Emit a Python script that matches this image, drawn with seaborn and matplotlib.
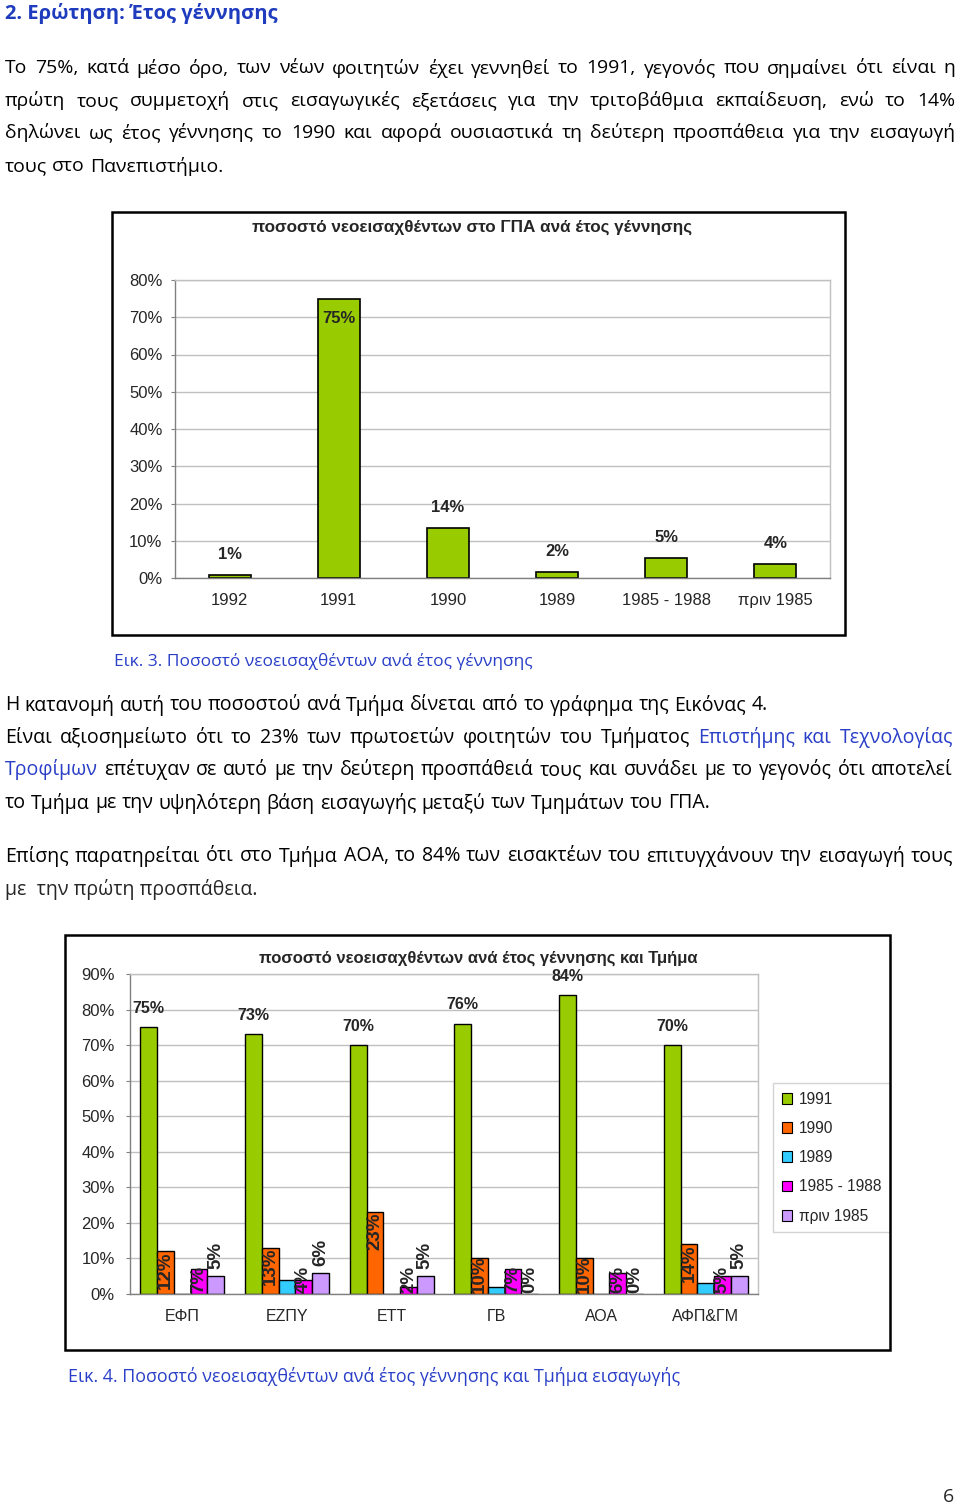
import matplotlib
matplotlib.use("Agg")
import numpy as np
import pandas as pd
import matplotlib.pyplot as plt
import seaborn as sns
from matplotlib.patches import Rectangle, Patch

# ------------------------------
# Data
# ------------------------------
# Fig. 3: share of new students per birth year
birth_years = ["1992", "1991", "1990", "1989", "1985 - 1988", "πριν 1985"]
birth_share = [0.8, 75.0, 13.5, 1.7, 5.3, 3.7]
birth_labels = ["1%", "75%", "14%", "2%", "5%", "4%"]

# Fig. 4: share per birth year and department
departments = ["ΕΦΠ", "ΕΖΠΥ", "ΕΤΤ", "ΓΒ", "ΑΟΑ", "ΑΦΠ&ΓΜ"]
year_groups = ["1991", "1990", "1989", "1985 - 1988", "πριν 1985"]
share_1991 = [75, 73, 70, 76, 84, 70]
share_1990 = [12, 13, 23, 10, 10, 14]
share_1989 = [0, 4, 0, 2, 0, 3]
share_1985_88 = [7, 4, 2, 7, 6, 5]
share_pre1985 = [5, 6, 5, 0, 0, 5]
group_colors = ["#99CC00", "#FF6600", "#33CCFF", "#FF00FF", "#CC99FF"]

# ------------------------------
# Page setup
# ------------------------------
sns.set_style("white")
plt.rcParams["font.family"] = ["Liberation Sans", "DejaVu Sans"]

W, H = 960, 1505
fig = plt.figure(figsize=(9.6, 15.05), dpi=100)
renderer = fig.canvas.get_renderer()

BODY = ["Open Sans", "DejaVu Sans"]
BLUE = "#2a3fc8"
HEAD_BLUE = "#1f3cbf"


def fx(x):
    return x / W


def fy(y):
    return 1 - y / H


def text_width(s, **kw):
    t = fig.text(0, 0, s, **kw)
    w = t.get_window_extent(renderer).width
    t.remove()
    return w


def fit_size(s, target, **kw):
    return 12 * target / text_width(s, fontsize=12, **kw)


def line(x, y, parts, width=None, **kw):
    # parts: list of (text, color); justified when width is given
    words = []
    for s, c in parts:
        for w in s.split():
            words.append((w, c))
    widths = [text_width(w, **kw) for w, _ in words]
    if width is None:
        gap = text_width("a b", **kw) - text_width("ab", **kw)
    else:
        gap = (width - sum(widths)) / (len(words) - 1)
    cx = x
    for (w, c), ww in zip(words, widths):
        fig.text(fx(cx), fy(y), w, color=c, va="center", ha="left", **kw)
        cx += ww + gap


# ------------------------------
# Text blocks
# ------------------------------
head = "2. Ερώτηση: Έτος γέννησης"
hs = fit_size(head, 272, family=BODY, weight="bold")
fig.text(fx(5), fy(14), head, family=BODY, weight="bold", fontsize=hs,
         color=HEAD_BLUE, va="center")

k1 = dict(family=BODY, fontsize=fit_size("τους στο Πανεπιστήμιο.", 217, family=BODY))
line(5, 68, [("Το 75%, κατά μέσο όρο, των νέων φοιτητών έχει γεννηθεί το 1991, "
              "γεγονός που σημαίνει ότι είναι η", "black")], width=950, **k1)
line(5, 101, [("πρώτη τους συμμετοχή στις εισαγωγικές εξετάσεις για την τριτοβάθμια "
               "εκπαίδευση, ενώ το 14%", "black")], width=950, **k1)
line(5, 133, [("δηλώνει ως έτος γέννησης το 1990 και αφορά ουσιαστικά τη δεύτερη "
               "προσπάθεια για την εισαγωγή", "black")], width=950, **k1)
line(5, 166, [("τους στο Πανεπιστήμιο.", "black")], **k1)

cap3 = "Εικ. 3. Ποσοστό νεοεισαχθέντων ανά έτος γέννησης"
fig.text(fx(114), fy(662), cap3, family=BODY, color=BLUE, va="center",
         fontsize=fit_size(cap3, 417, family=BODY))

l2 = "Η κατανομή αυτή του ποσοστού ανά Τμήμα δίνεται από το γράφημα της Εικόνας 4."
k2 = dict(family=BODY, fontsize=fit_size(l2, 759, family=BODY))
line(5, 705, [(l2, "black")], **k2)
line(5, 738, [("Είναι αξιοσημείωτο ότι το 23% των πρωτοετών φοιτητών του Τμήματος", "black"),
              ("Επιστήμης και Τεχνολογίας", BLUE)], width=948, **k2)
line(5, 770, [("Τροφίμων", BLUE),
              ("επέτυχαν σε αυτό με την δεύτερη προσπάθειά τους και συνάδει με το "
               "γεγονός ότι αποτελεί", "black")], width=948, **k2)
line(5, 803, [("το Τμήμα με την υψηλότερη βάση εισαγωγής μεταξύ των Τμημάτων του ΓΠΑ.",
               "black")], **k2)
line(5, 856, [("Επίσης παρατηρείται ότι στο Τμήμα ΑΟΑ, το 84% των εισακτέων του "
               "επιτυγχάνουν την εισαγωγή τους", "black")], width=948, **k2)
fig.text(fx(5), fy(889), "με  την πρώτη προσπάθεια.", va="center", **k2)

cap4 = "Εικ. 4. Ποσοστό νεοεισαχθέντων ανά έτος γέννησης και Τμήμα εισαγωγής"
fig.text(fx(68), fy(1377), cap4, family=BODY, color=BLUE, va="center",
         fontsize=fit_size(cap4, 612, family=BODY))

fig.text(fx(948), fy(1497), "6", family=BODY, fontsize=14, va="center", ha="center")


def style_axes(ax, ymax):
    ax.set_ylim(0, ymax)
    ax.set_yticks(range(0, ymax + 1, 10))
    ax.set_yticklabels([f"{v}%" for v in range(0, ymax + 1, 10)], fontsize=12)
    ax.yaxis.grid(True, color="#C0C0C0", lw=1)
    ax.set_axisbelow(True)
    for s in ["left", "bottom"]:
        ax.spines[s].set_color("#808080")
    for s in ["top", "right"]:
        ax.spines[s].set_color("#C0C0C0")
    for s in ax.spines.values():
        s.set_linewidth(1)
    ax.set_xlabel("")
    ax.set_ylabel("")
    ax.set_xticks(np.arange(-0.5, len(departments), 1), minor=True)
    ax.tick_params(axis="x", which="major", length=0, pad=11, labelsize=12)
    ax.tick_params(axis="x", which="minor", length=4, color="#808080")
    ax.tick_params(axis="y", length=3, color="#808080", pad=6, left=True)


# ------------------------------
# Fig. 3 chart
# ------------------------------
fig.add_artist(Rectangle((fx(112), fy(635)), (845 - 112) / W, (635 - 212) / H,
                         transform=fig.transFigure, fill=False, lw=1.8, ec="black"))
fig.text(fx(472), fy(227), "ποσοστό νεοεισαχθέντων στο ΓΠΑ ανά έτος γέννησης",
         ha="center", va="center", weight="bold", fontsize=12.3)

ax1 = fig.add_axes([fx(175), fy(578), (830 - 175) / W, (578 - 280) / H])
df1 = pd.DataFrame({"year": birth_years, "share": birth_share})
sns.barplot(data=df1, x="year", y="share", color="#99CC00", saturation=1,
            width=0.385, edgecolor="black", linewidth=1.2, ax=ax1)
style_axes(ax1, 80)
for i, (v, lab) in enumerate(zip(birth_share, birth_labels)):
    if v > 50:
        ax1.text(i, v - 5.3, lab, ha="center", va="center", weight="bold", fontsize=12)
    else:
        ax1.text(i, v + 5.5, lab, ha="center", va="center", weight="bold", fontsize=12)

# ------------------------------
# Fig. 4 chart
# ------------------------------
fig.add_artist(Rectangle((fx(65), fy(1350)), (890 - 65) / W, (1350 - 935) / H,
                         transform=fig.transFigure, fill=False, lw=1.8, ec="black"))
fig.text(fx(478), fy(958), "ποσοστό νεοεισαχθέντων ανά έτος γέννησης και Τμήμα",
         ha="center", va="center", weight="bold", fontsize=12)

series = [share_1991, share_1990, share_1989, share_1985_88, share_pre1985]
df2 = pd.DataFrame({
    "dept": np.repeat(departments, len(year_groups)),
    "group": year_groups * len(departments),
    "share": [series[j][i] for i in range(len(departments)) for j in range(len(year_groups))],
})
ax2 = fig.add_axes([fx(130), fy(1294), (758 - 130) / W, (1294 - 974) / H])
sns.barplot(data=df2, x="dept", y="share", hue="group", hue_order=year_groups,
            order=departments, palette=dict(zip(year_groups, group_colors)),
            saturation=1, width=0.8, edgecolor="black", linewidth=1,
            legend=False, ax=ax2)
style_axes(ax2, 90)
ax2.tick_params(axis="x", which="major", labelsize=11.5)
ax2.tick_params(axis="y", pad=8)

for j, cont in enumerate(ax2.containers):
    vals = series[j]
    for p, v in zip(cont.patches, vals):
        xc = p.get_x() + p.get_width() / 2
        if j == 0:
            ax2.text(xc, v + 5.3, f"{v}%", ha="center", va="center",
                     weight="bold", fontsize=11.5)
        elif j in (1, 3):
            if v >= 12:
                ax2.text(xc, v, f"{v}%", ha="center", va="top", rotation=90,
                         weight="bold", fontsize=13.5)
            else:
                ax2.text(xc, 0.2, f"{v}%", ha="center", va="bottom", rotation=90,
                         weight="bold", fontsize=13.5)
        elif j == 4:
            y = v + 2 if v > 0 else 0.2
            ax2.text(xc, y, f"{v}%", ha="center", va="bottom", rotation=90,
                     weight="bold", fontsize=13.5)

handles = [Patch(facecolor=c, edgecolor="black", lw=0.8) for c in group_colors]
leg = ax2.legend(handles, year_groups, loc="upper left",
                 bbox_to_anchor=(fx(773), fy(1083)), bbox_transform=fig.transFigure,
                 frameon=True, fancybox=False, edgecolor="#C8C8C8", fontsize=11.2,
                 handlelength=0.7, handleheight=0.7, handletextpad=0.4,
                 labelspacing=0.92, borderpad=0.55, borderaxespad=0)
leg.get_frame().set_linewidth(1)

fig.savefig("out.png", dpi=100)
